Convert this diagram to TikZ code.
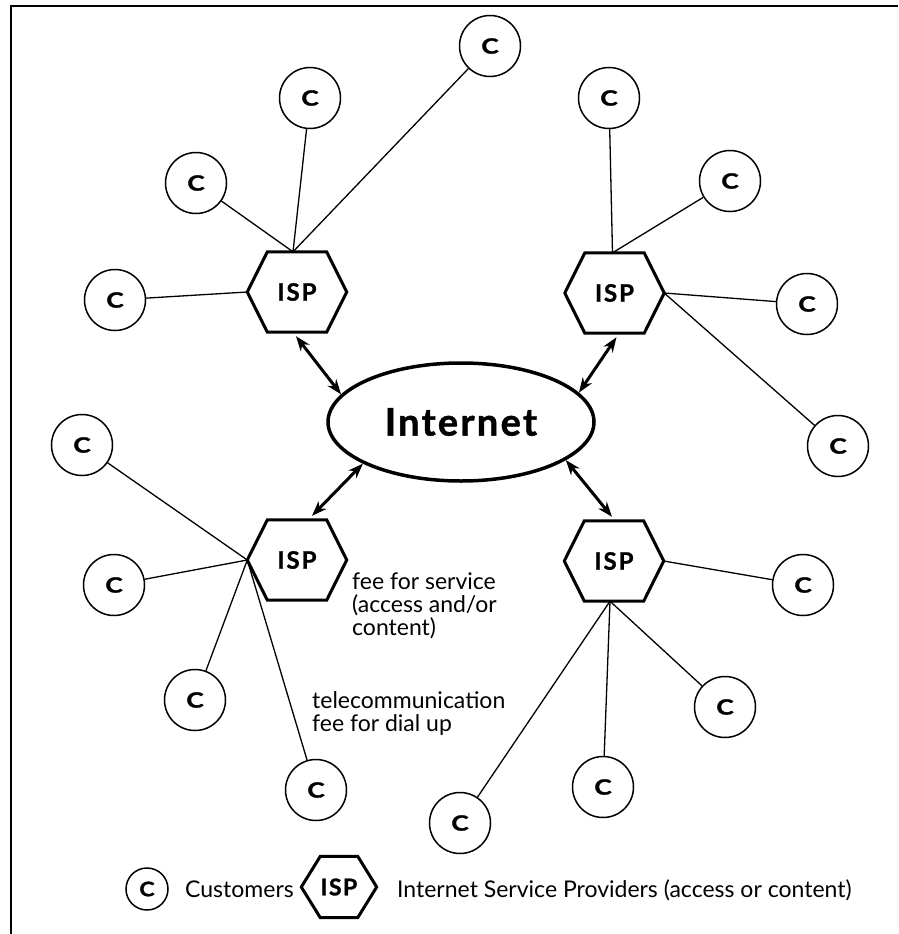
\documentclass[tikz,border=0pt]{standalone}
\usepackage{fontspec}
\setmainfont{Lato}
\usetikzlibrary{shapes.geometric,arrows.meta}
\tikzset{
  cust/.style={circle, draw, line width=1.5pt, minimum size=61pt, inner sep=0pt, font=\fontsize{21}{21}\selectfont\bfseries\addfontfeature{FakeBold=1.6,FakeStretch=1.25}},
  ispbox/.style={rectangle, minimum width=99pt, minimum height=80pt, inner sep=0pt, font=\fontsize{24}{24}\selectfont\bfseries\addfontfeature{LetterSpace=8,FakeBold=1.2}},
  legisp/.style={rectangle, minimum width=75pt, minimum height=61pt, inner sep=0pt, font=\fontsize{23}{23}\selectfont\bfseries\addfontfeature{LetterSpace=6,FakeBold=1.2}},
  legcust/.style={circle, draw, line width=1.5pt, minimum size=42pt, inner sep=0pt, font=\fontsize{20}{20}\selectfont\bfseries\addfontfeature{FakeBold=1.6,FakeStretch=1.15}},
  hexline/.style={line width=3pt, line join=miter},
  link/.style={line width=1.3pt},
  biarrow/.style={line width=3pt, {Stealth[length=15pt,width=11pt]}-{Stealth[length=15pt,width=11pt]}},
  note/.style={font=\fontsize{23}{23}\selectfont, align=left, inner sep=0pt},
  cloudnet/.style={ellipse, draw, line width=3.5pt, minimum width=266pt, minimum height=118pt, inner sep=0pt, font=\fontsize{38}{38}\selectfont\bfseries\addfontfeature{LetterSpace=6,FakeBold=1.2}},
}
\newcommand\hexframe[2]{\draw[hexline] (#1.west) -- ([xshift=#2]#1.north west) -- ([xshift=-#2]#1.north east) -- (#1.east) -- ([xshift=-#2]#1.south east) -- ([xshift=#2]#1.south west) -- cycle;}
\begin{document}
\begin{tikzpicture}[x=1pt, y=-1pt]
\useasboundingbox (0,0) rectangle (898,934);
\draw[line width=2pt] (11,934) -- (11,6) -- (898,6);

% Internet
\node[cloudnet] (net) at (461,422) {Internet};

% ISPs
\node[ispbox] (i1) at (297,292) {ISP};
\node[ispbox] (i2) at (614.5,293) {ISP};
\node[ispbox] (i3) at (297,560) {ISP};
\node[ispbox] (i4) at (614,561) {ISP};
\hexframe{i1}{20pt}
\hexframe{i2}{20pt}
\hexframe{i3}{20pt}
\hexframe{i4}{20pt}

% customers
\node[cust] (c1) at (196,183) {C};
\node[cust] (c2) at (310,98) {C};
\node[cust] (c3) at (490,46) {C};
\node[cust] (c4) at (115,300) {C};
\node[cust] (c5) at (609,98) {C};
\node[cust] (c6) at (730,181) {C};
\node[cust] (c7) at (807,304) {C};
\node[cust] (c8) at (838,446) {C};
\node[cust] (c9) at (82,445) {C};
\node[cust] (c10) at (114,585) {C};
\node[cust] (c11) at (195,700) {C};
\node[cust] (c12) at (316,790) {C};
\node[cust] (c13) at (803,585) {C};
\node[cust] (c14) at (725,707) {C};
\node[cust] (c15) at (603,787) {C};
\node[cust] (c16) at (460,823) {C};

% links
\coordinate (t1) at ([xshift=-4pt]i1.north);
\coordinate (t2) at ([xshift=-2pt]i2.north);
\coordinate (b4) at ([xshift=-4pt]i4.south);
\draw[link] (c1) -- (t1);
\draw[link] (c2) -- (t1);
\draw[link] (c3) -- (t1);
\draw[link] (c4) -- (i1.west);
\draw[link] (c5) -- (t2);
\draw[link] (c6) -- (t2);
\draw[link] (c7) -- (i2.east);
\draw[link] (c8) -- (i2.east);
\draw[link] (c9) -- (i3.west);
\draw[link] (c10) -- (i3.west);
\draw[link] (c11) -- (i3.west);
\draw[link] (c12) -- (i3.west);
\draw[link] (c13) -- (i4.east);
\draw[link] (c14) -- (b4);
\draw[link] (c15) -- (b4);
\draw[link] (c16) -- (b4);

% arrows ISP <-> Internet
\draw[biarrow] ([xshift=-1pt,yshift=-4pt]i1.south) -- (net.167);
\draw[biarrow] ([xshift=2pt,yshift=-4pt]i2.south) -- (net.14);
\draw[biarrow] ([xshift=15pt,yshift=4pt]i3.north) -- (net.203);
\draw[biarrow] ([xshift=-2pt,yshift=4pt]i4.north) -- (net.340);

% notes
\node[note, anchor=north west] (fee) at (352,573) {fee for service\\(access and/or\\content)};
\node[note, anchor=north west] (tel) at (312,691) {telecommunication\\fee for dial up};

% legend
\node[legcust] (lc) at (147,889) {C};
\node[note, anchor=base west] (lct) at (185,897) {Customers};
\node[legisp] (li) at (339,887) {ISP};
\hexframe{li}{19pt}
\node[note, anchor=base west] (lit) at (397,897) {Internet Service Providers (access or content)};
\end{tikzpicture}
\end{document}
